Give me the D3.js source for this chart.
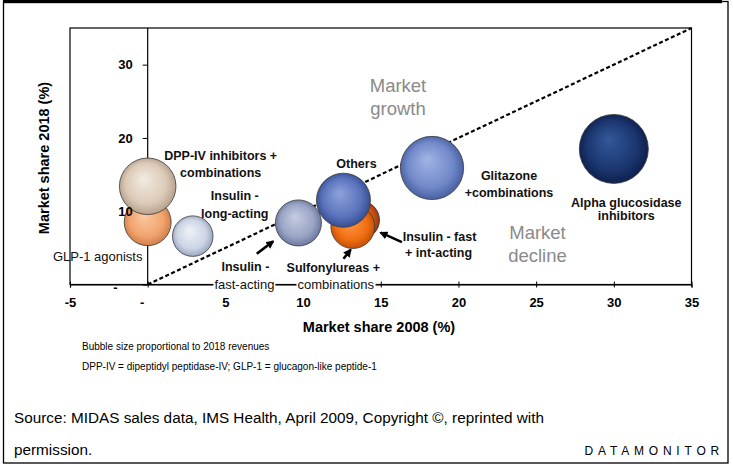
<!DOCTYPE html>
<html>
<head>
<meta charset="utf-8">
<script src="https://cdn.jsdelivr.net/npm/d3@7"></script>
<style>
  html, body { margin: 0; padding: 0; background: #fff; }
  svg { display: block; font-family: "Liberation Sans", Arial, sans-serif; }
</style>
</head>
<body>
<svg id="chart" width="733" height="467"></svg>
<script>
// ---------------- DATA ----------------
const categories = [
  "GLP-1 agonists",
  "DPP-IV inhibitors + combinations",
  "Insulin - long-acting",
  "Insulin - fast-acting",
  "Insulin - fast + int-acting",
  "Sulfonylureas + combinations",
  "Others",
  "Glitazone + combinations",
  "Alpha glucosidase inhibitors"
];
const share2008 = [0, 0, 2.9, 9.7, 13.7, 13.2, 12.6, 18.3, 30];
const share2018 = [8.5, 13.4, 6.6, 8.4, 8.8, 7.9, 11.5, 15.9, 18.5];
const revenue2018 = [5.5, 8.0, 4.1, 5.3, 3.6, 4.8, 7.3, 10.0, 11.9]; // relative bubble sizes
const xTicks = [-5, 0, 5, 10, 15, 20, 25, 30, 35];
const yTicks = [0, 10, 20, 30];

// ---------------- STYLE / LAYOUT ----------------
const colors = {
  "GLP-1 agonists": ["#fbc9a2", "#f2a36e", "#c9773f"],
  "DPP-IV inhibitors + combinations": ["#f3ebe2", "#dccab7", "#ac9680"],
  "Insulin - long-acting": ["#eef2f9", "#cdd5e5", "#8e9cba"],
  "Insulin - fast-acting": ["#c6cde2", "#9aa4c4", "#5f6d98"],
  "Insulin - fast + int-acting": ["#e07a3e", "#c8541a", "#8a3008"],
  "Sulfonylureas + combinations": ["#ff9a48", "#f06e12", "#b84a00"],
  "Others": ["#8ea2dc", "#5a73bb", "#2d4588"],
  "Glitazone + combinations": ["#a2b4e6", "#7189c9", "#3e5599"],
  "Alpha glucosidase inhibitors": ["#34589a", "#1b3670", "#0b1a44"]
};

// label lines: [text, dx, dy (baseline, relative to bubble centre), bold, whiteBackground]
const labels = {
  "GLP-1 agonists": [["GLP-1 agonists", -50, 39, false]],
  "DPP-IV inhibitors + combinations": [["DPP-IV inhibitors +", 73, -26, true], ["combinations", 73, -9, true]],
  "Insulin - long-acting": [["Insulin -", 42, -36, true], ["long-acting", 42, -18.5, true]],
  "Insulin - fast-acting": [["Insulin -", -53, 48, true], ["fast-acting", -54, 66, false, true]],
  "Insulin - fast + int-acting": [["Insulin - fast", 79, 21, true], ["+ int-acting", 78, 36.5, true]],
  "Sulfonylureas + combinations": [["Sulfonylureas +", -19.5, 45, true], ["combinations", -17, 62.5, false, true]],
  "Others": [["Others", 13, -32.5, true]],
  "Glitazone + combinations": [["Glitazone", 77, 12.5, true], ["+combinations", 77, 29.5, true]],
  "Alpha glucosidase inhibitors": [["Alpha glucosidase", 12.5, 58, true], ["inhibitors", 12.5, 71, true]]
};

// arrows in data coordinates: [x1, y1, x2(head), y2(head)]
const arrows = [
  [7.02, 4.2, 8.07, 5.88],
  [12.6, 3.51, 13.06, 4.72],
  [16.36, 5.78, 15.0, 7.07]
];

// ---------------- CHART ----------------
const svg = d3.select("#chart");
const plot = { left: 70, right: 691.5, top: 28, bottom: 284.5 };

// outer frame
svg.append("rect").attr("x", 3.5).attr("y", 1.5).attr("width", 724.5).attr("height", 461.5)
  .attr("fill", "none").attr("stroke", "#000").attr("stroke-width", 1.3);
svg.append("rect").attr("x", 3).attr("y", 0).attr("width", 719).attr("height", 3.2).attr("fill", "#000");

const x = d3.scaleLinear().domain([-5, 35]).range([plot.left, plot.right]);
const y = d3.scaleLinear().domain([0, 35]).range([plot.bottom, plot.top]);
const r = d3.scaleSqrt().domain([0, d3.max(revenue2018)]).range([0, 34.5]);

// plot border
svg.append("rect").attr("x", plot.left).attr("y", plot.top)
  .attr("width", plot.right - plot.left).attr("height", plot.bottom - plot.top)
  .attr("fill", "none").attr("stroke", "#000").attr("stroke-width", 1.2);

// gradients
const defs = svg.append("defs");
categories.forEach((c, i) => {
  const g = defs.append("radialGradient").attr("id", "g" + i)
    .attr("cx", "50%").attr("cy", "50%").attr("r", "55%")
    .attr("fx", "42%").attr("fy", "36%");
  g.append("stop").attr("offset", "0%").attr("stop-color", colors[c][0]);
  g.append("stop").attr("offset", "65%").attr("stop-color", colors[c][1]);
  g.append("stop").attr("offset", "100%").attr("stop-color", colors[c][2]);
});
const mk = defs.append("marker").attr("id", "arr").attr("viewBox", "0 0 10 10")
  .attr("refX", 8).attr("refY", 5).attr("markerWidth", 3.2).attr("markerHeight", 3.2)
  .attr("orient", "auto");
mk.append("path").attr("d", "M0,0 L10,5 L0,10 z").attr("fill", "#000");

const tickFont = g => g.attr("font-size", 13).attr("font-weight", "bold")
  .attr("font-family", "Liberation Sans, Arial, sans-serif").attr("fill", "#000");

// x axis (at y = 0)
const xAxis = svg.append("g").attr("transform", `translate(0,${y(0)})`)
  .call(d3.axisBottom(x).tickValues(xTicks).tickSize(3).tickPadding(10)
    .tickFormat(d => d === 0 ? "-" : d));
xAxis.select(".domain").attr("stroke", "#000").attr("stroke-width", 1.2);
xAxis.selectAll(".tick line").attr("y1", -3).attr("y2", 3).attr("stroke", "#000");
xAxis.selectAll(".tick text").call(tickFont);
xAxis.selectAll(".tick").filter(d => d === 0).select("text").attr("dx", -6);

// y axis line and ticks (under the bubbles)
const yAxisGen = d3.axisLeft(y).tickValues(yTicks).tickSize(5).tickPadding(10)
  .tickFormat(d => d === 0 ? "-" : d);
const yAxis = svg.append("g").attr("transform", `translate(${x(0)},0)`).call(yAxisGen);
yAxis.select(".domain").attr("d", `M0,${plot.top}V${plot.bottom}`).attr("stroke", "#000").attr("stroke-width", 1.2);
yAxis.selectAll(".tick line").attr("stroke", "#000");
yAxis.selectAll(".tick text").remove();

// axis titles
svg.append("text").attr("x", 379).attr("y", 332).attr("text-anchor", "middle")
  .attr("font-size", 14.5).attr("font-weight", "bold").text("Market share 2008 (%)");
svg.append("text").attr("transform", "translate(49,158) rotate(-90)").attr("text-anchor", "middle")
  .attr("font-size", 14.5).attr("font-weight", "bold").text("Market share 2018 (%)");

// diagonal line
svg.append("line").attr("x1", x(0)).attr("y1", y(0)).attr("x2", x(35)).attr("y2", y(35))
  .attr("stroke", "#000").attr("stroke-width", 2.2).attr("stroke-dasharray", "4,2.5");

// market labels
const gray = "#8a8a8a";
[["Market", 398, 91.5], ["growth", 398, 114.5], ["Market", 537.5, 238.5], ["decline", 537.5, 261.5]]
  .forEach(t => svg.append("text").attr("x", t[1]).attr("y", t[2]).attr("text-anchor", "middle")
    .attr("font-size", 18.5).attr("fill", gray).text(t[0]));

// bubbles
const data = categories.map((c, i) => ({ c, i, x: share2008[i], y: share2018[i], v: revenue2018[i] }));
svg.append("g").selectAll("circle").data(data).join("circle")
  .attr("cx", d => x(d.x)).attr("cy", d => y(d.y)).attr("r", d => r(d.v))
  .attr("fill", d => `url(#g${d.i})`).attr("stroke", "#3a3a3a").attr("stroke-width", 0.8);

// y tick labels (drawn over the bubbles, as in the original)
const yLab = svg.append("g").attr("transform", `translate(${x(0)},0)`).call(yAxisGen);
yLab.select(".domain").remove();
yLab.selectAll(".tick line").remove();
yLab.selectAll(".tick text").call(tickFont);
yLab.selectAll(".tick").filter(d => d === 0).select("text").attr("dx", -15).attr("dy", "0.5em");

// labels
const lg = svg.append("g");
data.forEach(d => {
  labels[d.c].forEach(l => {
    const t = lg.append("text").attr("x", x(d.x) + l[1]).attr("y", y(d.y) + l[2])
      .attr("text-anchor", "middle").attr("font-size", l[3] ? 12.5 : 13)
      .attr("font-weight", l[3] ? "bold" : "normal").attr("fill", "#111").text(l[0]);
    if (l[4]) {
      const b = t.node().getBBox();
      lg.insert("rect", () => t.node()).attr("x", b.x - 1).attr("y", b.y + 2)
        .attr("width", b.width + 2).attr("height", b.height - 4).attr("fill", "#fff");
    }
  });
});

// arrows
svg.append("g").selectAll("line").data(arrows).join("line")
  .attr("x1", d => x(d[0])).attr("y1", d => y(d[1]))
  .attr("x2", d => x(d[2])).attr("y2", d => y(d[3]))
  .attr("stroke", "#000").attr("stroke-width", 2.6).attr("marker-end", "url(#arr)");

// footnotes
svg.append("text").attr("x", 82).attr("y", 350).attr("font-size", 10).attr("fill", "#000")
  .text("Bubble size proportional to 2018 revenues");
svg.append("text").attr("x", 82).attr("y", 370).attr("font-size", 10).attr("fill", "#000")
  .text("DPP-IV = dipeptidyl peptidase-IV; GLP-1 = glucagon-like peptide-1");
svg.append("text").attr("x", 14).attr("y", 423).attr("font-size", 15.3).attr("fill", "#000")
  .text("Source: MIDAS sales data, IMS Health, April 2009, Copyright ©, reprinted with");
svg.append("text").attr("x", 14).attr("y", 455).attr("font-size", 15.3).attr("fill", "#000")
  .text("permission.");
svg.append("text").attr("x", 724).attr("y", 455).attr("text-anchor", "end")
  .attr("font-size", 12).attr("letter-spacing", "4.8px").attr("fill", "#000")
  .text("DATAMONITOR");
</script>
</body>
</html>
